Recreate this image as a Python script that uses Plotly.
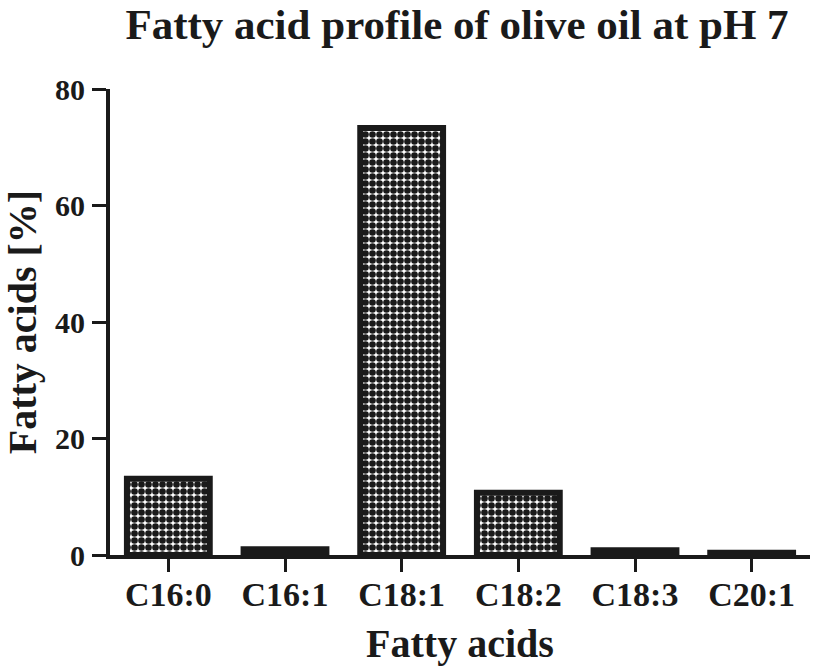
import plotly.graph_objects as go

categories = ["C16:0", "C16:1", "C18:1", "C18:2", "C18:3", "C20:1"]
values = [13.1, 1.0, 73.3, 10.7, 0.8, 0.4]
y_ticks = [0, 20, 40, 60, 80]

font_family = "Liberation Serif"
ink = "#1a1a1a"

fig = go.Figure()
fig.add_trace(go.Bar(
    x=categories,
    y=values,
    marker=dict(
        color="white",
        line=dict(color=ink, width=6),
        pattern=dict(shape=".", size=7, solidity=0.7, fgcolor=ink, bgcolor="white", fillmode="replace"),
    ),
    width=0.71,
))

fig.update_layout(
    width=813, height=667,
    margin=dict(l=110, r=3, t=89, b=112, autoexpand=False),
    paper_bgcolor="white", plot_bgcolor="white",
    showlegend=False,
    title=dict(
        text="Fatty acid profile of olive oil at pH 7",
        font=dict(family=font_family, size=43, color=ink, weight="bold"),
        x=457 / 813, xanchor="center", xref="container",
        y=1 - 39 / 667, yanchor="bottom", yref="container",
    ),
    xaxis=dict(
        range=[-0.5, 5.5],
        showline=True, linecolor=ink, linewidth=4,
        ticks="outside", ticklen=13, tickwidth=3, tickcolor=ink,
        tickfont=dict(family=font_family, size=34, color=ink, weight="bold"),
        ticklabelstandoff=-7,
        showgrid=False, zeroline=False,
        title=dict(text="Fatty acids", standoff=18,
                   font=dict(family=font_family, size=40, color=ink, weight="bold")),
        automargin=False,
    ),
    yaxis=dict(
        range=[0, 80],
        tickvals=y_ticks,
        showline=True, linecolor=ink, linewidth=4,
        ticks="outside", ticklen=14, tickwidth=3, tickcolor=ink,
        tickfont=dict(family=font_family, size=30, color=ink, weight="bold"),
        showgrid=False, zeroline=False,
        ticklabelstandoff=1,
        title=dict(text="Fatty acids [%]", standoff=22,
                   font=dict(family=font_family, size=40, color=ink, weight="bold")),
        automargin=False,
    ),
)

fig.write_html(
    "out.html",
    config={"displayModeBar": False},
    post_script="document.body.style.margin='0';document.body.style.overflow='hidden';",
)
